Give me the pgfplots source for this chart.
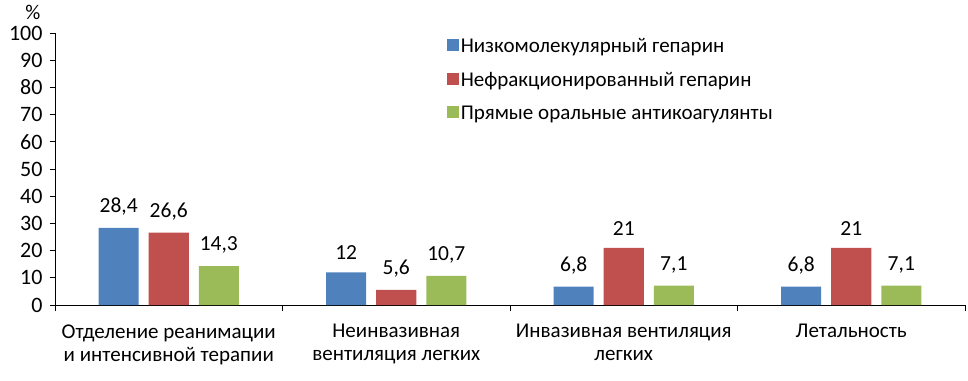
\documentclass[border=0pt]{standalone}
\usepackage{fontspec}
\setmainfont{Carlito}
\usepackage{pgfplots}
\pgfplotsset{compat=1.18}
\definecolor{cblue}{HTML}{4F81BD}
\definecolor{cred}{HTML}{C0504D}
\definecolor{cgreen}{HTML}{9BBB59}
\begin{document}
\begin{tikzpicture}
\path[use as bounding box] (-55bp,-76bp) rectangle (913bp,305bp);
\begin{axis}[
  at={(0,0)}, anchor=south west,
  scale only axis, width=910bp, height=272bp,
  font=\fontsize{21bp}{23bp}\selectfont,
  /pgf/number format/assume math mode=true,
  /pgf/number format/use comma,
  xmin=-0.5, xmax=3.5, ymin=0, ymax=100,
  axis x line*=bottom, axis y line*=left,
  axis line style={-, black, line width=0.8bp},
  ytick={0,10,...,100},
  tick align=outside,
  major tick length=5bp,
  minor tick length=6bp,
  ytick style={black, line width=0.8bp},
  xtick={0,1,2,3},
  major x tick style={draw=none},
  minor xtick={-0.5,0.5,1.5,2.5,3.5},
  minor x tick style={black, line width=0.8bp},
  xticklabels={{Отделение реанимации\\и интенсивной терапии},{Неинвазивная\\вентиляция легких},{Инвазивная вентиляция\\легких},{Летальность}},
  xticklabel style={align=center, text depth=0pt, yshift=-11bp},
  yticklabel style={xshift=-4bp, font=\fontsize{22bp}{24bp}\selectfont},
  ybar, bar width=0.176,
  nodes near coords,
  nodes near coords style={yshift=9bp, font=\fontsize{21.5bp}{24bp}\selectfont},
  legend style={draw=none, fill=none, at={(rel axis cs:0.427,0.995)}, anchor=north west,
    row sep=14bp, font=\fontsize{21bp}{24bp}\selectfont},
  legend cell align=left,
  legend image code/.code={\fill[#1] (0bp,-5bp) rectangle (12bp,7bp);},
  clip=false,
]
\addplot[fill=cblue, draw=none, bar shift=-0.22] coordinates {(0,28.4) (1,12) (2,6.8) (3,6.8)};
\addplot[fill=cred, draw=none, bar shift=0] coordinates {(0,26.6) (1,5.6) (2,21) (3,21)};
\addplot[fill=cgreen, draw=none, bar shift=0.22] coordinates {(0,14.3) (1,10.7) (2,7.1) (3,7.1)};
\legend{Низкомолекулярный гепарин, Нефракционированный гепарин, Прямые оральные антикоагулянты}
\node[anchor=south] at (rel axis cs:0,1) [xshift=-22bp, yshift=10bp] {\%};
\end{axis}
\end{tikzpicture}
\end{document}
